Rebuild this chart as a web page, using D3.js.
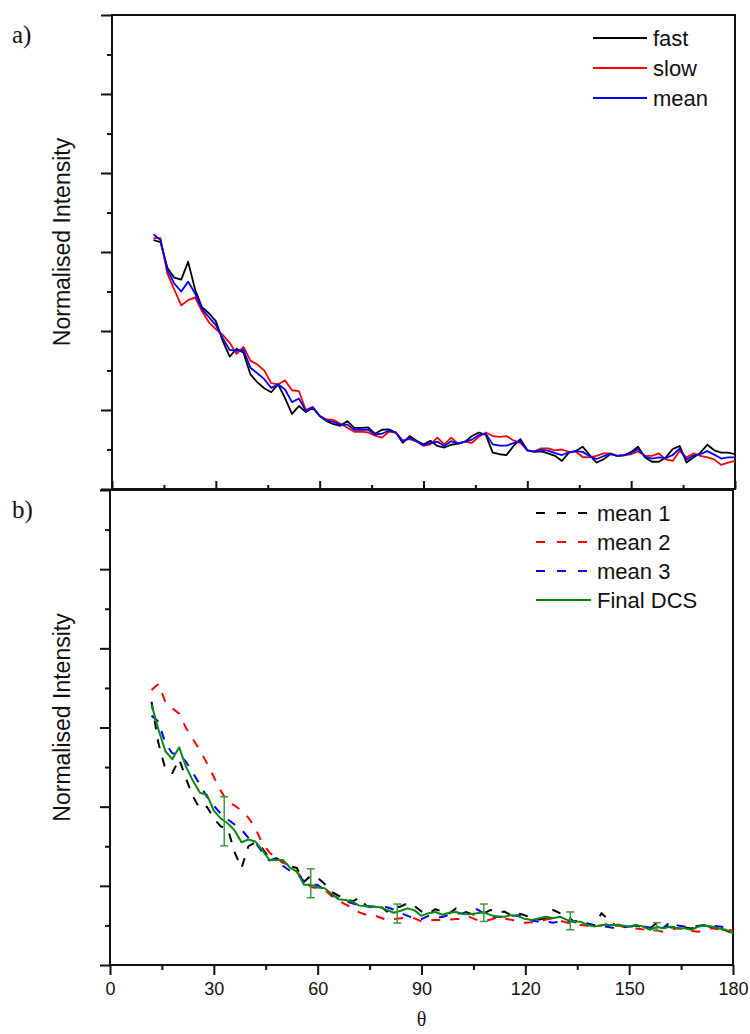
<!DOCTYPE html>
<html>
<head>
<meta charset="utf-8">
<script src="https://cdn.jsdelivr.net/npm/d3@7"></script>
<style>
  body { margin: 0; background: #fff; }
  text { font-family: "Liberation Sans", Arial, sans-serif; fill: #111; }
  .serif { font-family: "Liberation Serif", "Times New Roman", serif; }
</style>
</head>
<body>
<div id="chart"></div>
<script>
// angle grid (degrees) shared by every curve
let theta = d3.range(12, 181, 2);

// panel a
let fast = [6.3, 6.25, 5.6, 5.35, 5.3, 5.75, 5.05, 4.6, 4.45, 4.25,
  3.75, 3.35, 3.55, 3.45, 2.9, 2.7, 2.55, 2.45, 2.65, 2.3,
  1.9, 2.1, 1.95, 2.05, 1.85, 1.72, 1.64, 1.6, 1.72, 1.55,
  1.55, 1.56, 1.4, 1.5, 1.51,
  1.43, 1.17, 1.34, 1.22, 1.13, 1.22, 1.09, 1.05, 1.12, 1.15,
  1.2, 1.34, 1.43, 1.37, 0.92, 0.88, 0.86, 1.09, 1.26, 0.98,
  0.94, 0.95, 0.9, 0.84, 0.71, 0.92, 0.96, 1.07, 0.86, 0.67,
  0.75, 0.88, 0.84, 0.85, 0.94, 1.07, 0.8, 0.69, 0.69, 0.8,
  1.01, 1.09, 0.67, 0.8, 0.92, 1.12, 0.98, 0.92, 0.92, 0.88];
let slow = [6.35, 6.35, 5.45, 5.05, 4.65, 4.78, 4.85, 4.5, 4.22, 4.05,
  3.9, 3.7, 3.42, 3.6, 3.25, 3.15, 3.0, 2.68, 2.65, 2.75,
  2.5, 2.48, 2.0, 2.08, 1.85, 1.76, 1.75, 1.65, 1.55, 1.45,
  1.45, 1.43, 1.35, 1.3, 1.45,
  1.43, 1.23, 1.26, 1.2, 1.09, 1.13, 1.3, 1.13, 1.3, 1.15,
  1.2, 1.17, 1.32, 1.43, 1.34, 1.32, 1.34, 1.23, 1.17, 0.98,
  0.95, 1.03, 1.03, 0.98, 1.0, 0.94, 0.95, 0.81, 0.8, 0.84,
  0.9, 0.9, 0.84, 0.86, 0.88, 0.95, 0.84, 0.84, 0.9, 0.75,
  0.71, 0.96, 0.8, 0.9, 0.84, 0.8, 0.75, 0.61, 0.67, 0.71];
let mean = [6.45, 6.3, 5.55, 5.2, 5.0, 5.25, 4.95, 4.55, 4.35, 4.15,
  3.82, 3.52, 3.5, 3.52, 3.07, 2.93, 2.78, 2.56, 2.65, 2.52,
  2.2, 2.29, 1.98, 2.07, 1.85, 1.74, 1.7, 1.63, 1.63, 1.5,
  1.5, 1.5, 1.38, 1.4, 1.48,
  1.43, 1.2, 1.3, 1.21, 1.11, 1.17, 1.2, 1.09, 1.21, 1.15,
  1.2, 1.25, 1.37, 1.4, 1.13, 1.1, 1.1, 1.16, 1.21, 0.98,
  0.95, 0.99, 0.97, 0.91, 0.86, 0.93, 0.96, 0.94, 0.83, 0.76,
  0.83, 0.89, 0.84, 0.86, 0.91, 1.01, 0.82, 0.77, 0.8, 0.78,
  0.86, 1.02, 0.74, 0.85, 0.88, 0.96, 0.87, 0.77, 0.8, 0.8];

// panel b
let mean1 = [6.65, 5.6, 4.95, 4.85, 5.2, 4.7, 4.25, 3.95, 4.0, 3.7,
  3.5, 3.45, 2.85, 2.45, 3.0, 3.1, 2.95, 2.7, 2.7, 2.6,
  2.5, 2.45, 2.1, 2.25, 2.2, 2.05, 1.85, 1.75, 1.7, 1.6,
  1.7, 1.5, 1.45, 1.5, 1.35,
  1.43, 1.48, 1.56, 1.49, 1.35, 1.3, 1.41, 1.35, 1.3, 1.43,
  1.37, 1.3, 1.25, 1.3, 1.39, 1.33, 1.35, 1.25, 1.31, 1.25,
  1.2, 1.15, 1.18, 1.39, 1.31, 1.24, 1.1, 1.12, 1.05, 1.0,
  1.31, 1.15, 1.0, 1.0, 0.98, 1.0, 0.95, 0.92, 1.07, 1.0,
  0.95, 0.97, 0.95, 0.92, 0.97, 1.0, 0.95, 0.92, 0.87, 0.8];
let mean2 = [6.95, 7.1, 6.65, 6.48, 6.35, 5.98, 5.7, 5.42, 5.1, 4.75,
  4.4, 4.12, 4.03, 3.9, 3.72, 3.45, 3.08, 2.85, 2.7, 2.58,
  2.52, 2.35, 2.15, 1.97, 1.94, 1.9, 1.74, 1.63, 1.53, 1.45,
  1.33, 1.27, 1.27, 1.2, 1.14,
  1.16, 1.18, 1.2, 1.18, 1.1, 1.12, 1.14, 1.14, 1.15, 1.16,
  1.16, 1.21, 1.14, 1.1, 1.15, 1.21, 1.17, 1.14, 1.1, 1.07,
  1.08, 1.1, 1.15, 1.18, 1.12, 1.07, 1.02, 1.01, 0.99, 0.97,
  1.0, 1.04, 1.05, 0.97, 0.93, 0.92, 0.9, 0.89, 0.87, 0.84,
  0.9, 0.93, 0.89, 0.86, 0.84, 0.9, 0.93, 0.9, 0.89, 0.87];
let mean3 = [6.3, 6.15, 5.6, 5.35, 5.32, 5.13, 4.85, 4.55, 4.25, 4.03,
  3.82, 3.68, 3.55, 3.42, 3.21, 3.1, 2.85, 2.64, 2.7, 2.5,
  2.38, 2.32, 2.12, 2.05, 2.02, 1.9, 1.78, 1.68, 1.62, 1.56,
  1.5, 1.48, 1.48, 1.48, 1.46,
  1.4, 1.31, 1.24, 1.18, 1.16, 1.24, 1.2, 1.21, 1.27, 1.3,
  1.31, 1.37, 1.41, 1.3, 1.22, 1.22, 1.22, 1.24, 1.26, 1.2,
  1.12, 1.1, 1.1, 1.07, 1.1, 1.12, 1.09, 1.05, 1.03, 1.01,
  0.98, 0.96, 0.93, 0.95, 0.97, 0.97, 0.97, 0.95, 0.89, 0.95,
  1.1, 1.0, 0.97, 0.98, 0.99, 1.01, 0.99, 0.97, 0.95, 0.93];
let finalDcs = [6.58, 5.95, 5.4, 5.2, 5.5, 5.0, 4.65, 4.35, 4.3, 3.9,
  3.7, 3.58, 3.4, 3.1, 3.17, 3.12, 2.9, 2.66, 2.65, 2.65,
  2.46, 2.36, 2.03, 2.03, 1.96, 1.94, 1.8, 1.66, 1.64, 1.6,
  1.5, 1.49, 1.47, 1.46, 1.39,
  1.32, 1.37, 1.43, 1.38, 1.24, 1.31, 1.34, 1.27, 1.32, 1.34,
  1.29, 1.28, 1.31, 1.33, 1.26, 1.22, 1.22, 1.26, 1.23, 1.16,
  1.14, 1.18, 1.22, 1.18, 1.22, 1.14, 1.1, 1.09, 1.01, 0.97,
  1.01, 1.01, 1.01, 1.0, 0.97, 1.01, 0.97, 0.89, 0.96, 0.93,
  0.97, 0.93, 0.93, 0.89, 0.97, 0.99, 0.97, 0.92, 0.89, 0.8];

// error bars on the final DCS
let errTheta = [33, 58, 83, 108, 133, 158];
let errLow = [3.01, 1.7, 1.06, 1.1, 0.89, 0.87];
let errHigh = [4.25, 2.43, 1.54, 1.54, 1.34, 1.07];

let xTicks = [0, 30, 60, 90, 120, 150, 180];
let xMinor = [15, 45, 75, 105, 135, 165];
let yTicks = [0, 2, 4, 6, 8, 10, 12];
let yMinor = [1, 3, 5, 7, 9, 11];

let width = 750;
let height = 1034;

let svg = d3.select("#chart")
  .append("svg")
  .attr("width", width)
  .attr("height", height);

let panelA = { left: 112, right: 735, top: 15, bottom: 489 };
let panelB = { left: 110, right: 733, top: 490, bottom: 965 };

let xA = d3.scaleLinear().domain([0, 180]).range([panelA.left, panelA.right]);
let yA = d3.scaleLinear().domain([0, 12]).range([panelA.bottom, panelA.top]);
let xB = d3.scaleLinear().domain([0, 180]).range([panelB.left, panelB.right]);
let yB = d3.scaleLinear().domain([0, 12]).range([panelB.bottom, panelB.top]);

function styleAxis(g) {
  g.select(".domain").remove();
  g.selectAll(".tick line").attr("stroke", "#111").attr("stroke-width", 2);
  g.selectAll(".tick text")
    .attr("font-size", 18)
    .attr("font-family", "Liberation Sans, Arial, sans-serif")
    .attr("fill", "#222");
}

function drawFrame(p) {
  svg.append("rect")
    .attr("x", p.left)
    .attr("y", p.top)
    .attr("width", p.right - p.left)
    .attr("height", p.bottom - p.top)
    .attr("fill", "none")
    .attr("stroke", "#111")
    .attr("stroke-width", 2);
}

function yLabel(p) {
  let cy = (p.top + p.bottom) / 2 - 10;
  svg.append("text")
    .attr("transform", "translate(70," + cy + ")rotate(-90)")
    .attr("text-anchor", "middle")
    .attr("font-size", 23)
    .text("Normalised Intensity");
}

// ---------- panel a ----------
svg.append("g")
  .attr("transform", "translate(" + panelA.left + ",0)")
  .call(d3.axisLeft(yA).tickValues(yTicks).tickSize(11).tickFormat(""))
  .call(styleAxis);
svg.append("g")
  .attr("transform", "translate(" + panelA.left + ",0)")
  .call(d3.axisLeft(yA).tickValues(yMinor).tickSize(5).tickFormat(""))
  .call(styleAxis);
svg.append("g")
  .attr("transform", "translate(0," + panelA.bottom + ")")
  .call(d3.axisTop(xA).tickValues(xTicks).tickSize(8).tickFormat(""))
  .call(styleAxis);
svg.append("g")
  .attr("transform", "translate(0," + panelA.bottom + ")")
  .call(d3.axisTop(xA).tickValues(xMinor).tickSize(4).tickFormat(""))
  .call(styleAxis);
drawFrame(panelA);
yLabel(panelA);

let lineA = function(vals) {
  return d3.line()
    .x(function(d, i) { return xA(theta[i]); })
    .y(function(d) { return yA(d); })(vals);
};

let seriesA = [
  { name: "fast", vals: fast, color: "#000000" },
  { name: "slow", vals: slow, color: "#ff0000" },
  { name: "mean", vals: mean, color: "#0000ff" }
];

seriesA.forEach(function(s) {
  svg.append("path")
    .attr("d", lineA(s.vals))
    .attr("fill", "none")
    .attr("stroke", s.color)
    .attr("stroke-width", 1.8)
    .attr("stroke-linejoin", "round");
});

seriesA.forEach(function(s, i) {
  let ly = 38 + i * 30;
  svg.append("line")
    .attr("x1", 593).attr("x2", 647)
    .attr("y1", ly).attr("y2", ly)
    .attr("stroke", s.color)
    .attr("stroke-width", 2);
  svg.append("text")
    .attr("x", 653)
    .attr("y", ly + 8)
    .attr("font-size", 22)
    .text(s.name);
});

svg.append("text")
  .attr("class", "serif")
  .attr("x", 12)
  .attr("y", 43)
  .attr("font-size", 25)
  .text("a)");

// ---------- panel b ----------
svg.append("g")
  .attr("transform", "translate(" + panelB.left + ",0)")
  .call(d3.axisLeft(yB).tickValues(yTicks).tickSize(10).tickFormat(""))
  .call(styleAxis);
svg.append("g")
  .attr("transform", "translate(" + panelB.left + ",0)")
  .call(d3.axisLeft(yB).tickValues(yMinor).tickSize(5).tickFormat(""))
  .call(styleAxis);
svg.append("g")
  .attr("transform", "translate(0," + panelB.bottom + ")")
  .call(d3.axisBottom(xB).tickValues(xTicks).tickSize(10).tickPadding(7).tickFormat(d3.format("d")))
  .call(styleAxis);
svg.append("g")
  .attr("transform", "translate(0," + panelB.bottom + ")")
  .call(d3.axisBottom(xB).tickValues(xMinor).tickSize(5).tickFormat(""))
  .call(styleAxis);
drawFrame(panelB);
yLabel(panelB);

svg.append("text")
  .attr("class", "serif")
  .attr("x", (panelB.left + panelB.right) / 2)
  .attr("y", 1026)
  .attr("text-anchor", "middle")
  .attr("font-size", 20)
  .text("θ");

let lineB = function(vals) {
  return d3.line()
    .x(function(d, i) { return xB(theta[i]); })
    .y(function(d) { return yB(d); })(vals);
};

let seriesB = [
  { name: "mean 1", vals: mean1, color: "#000000", dash: "9,10" },
  { name: "mean 2", vals: mean2, color: "#ff0000", dash: "9,10" },
  { name: "mean 3", vals: mean3, color: "#0000ff", dash: "9,10" },
  { name: "Final DCS", vals: finalDcs, color: "#0a8a0a", dash: null }
];

seriesB.forEach(function(s) {
  svg.append("path")
    .attr("d", lineB(s.vals))
    .attr("fill", "none")
    .attr("stroke", s.color)
    .attr("stroke-width", 2)
    .attr("stroke-dasharray", s.dash)
    .attr("stroke-linejoin", "round");
});

// error bars
let errG = svg.append("g")
  .attr("stroke", "#3a9a3a")
  .attr("stroke-width", 1.5);
errTheta.forEach(function(t, i) {
  let x = xB(t);
  errG.append("line")
    .attr("x1", x).attr("x2", x)
    .attr("y1", yB(errLow[i])).attr("y2", yB(errHigh[i]));
  [errLow[i], errHigh[i]].forEach(function(v) {
    errG.append("line")
      .attr("x1", x - 4).attr("x2", x + 4)
      .attr("y1", yB(v)).attr("y2", yB(v));
  });
});

seriesB.forEach(function(s, i) {
  let ly = 513 + i * 29;
  svg.append("line")
    .attr("x1", 536).attr("x2", 591)
    .attr("y1", ly).attr("y2", ly)
    .attr("stroke", s.color)
    .attr("stroke-width", 2)
    .attr("stroke-dasharray", s.dash ? "9,12" : null);
  svg.append("text")
    .attr("x", 597)
    .attr("y", ly + 8)
    .attr("font-size", 22)
    .text(s.name);
});

svg.append("text")
  .attr("class", "serif")
  .attr("x", 12)
  .attr("y", 518)
  .attr("font-size", 25)
  .text("b)");
</script>
</body>
</html>
